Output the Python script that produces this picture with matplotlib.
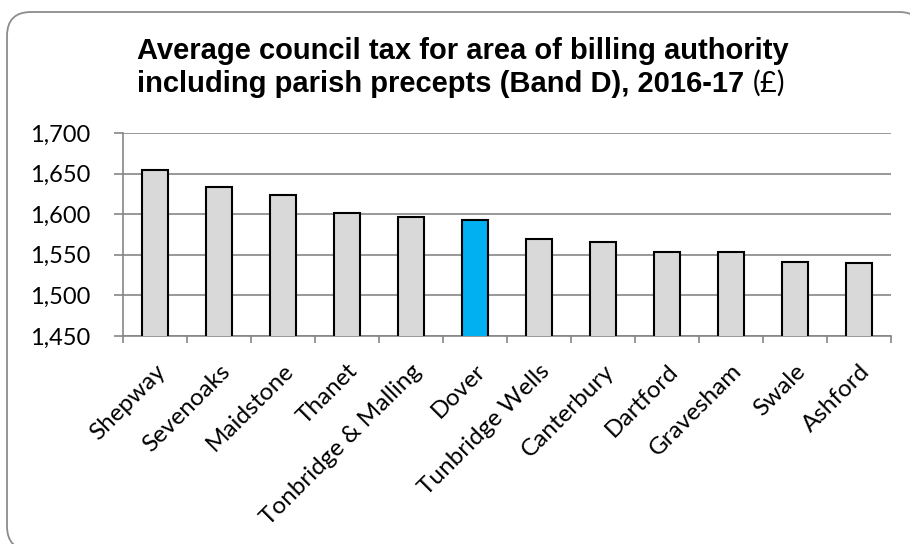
import matplotlib
matplotlib.use("Agg")
import matplotlib.pyplot as plt
from matplotlib.patches import FancyBboxPatch
from matplotlib.ticker import FuncFormatter, FixedLocator
from matplotlib.transforms import IdentityTransform

areas = ["Shepway", "Sevenoaks", "Maidstone", "Thanet", "Tonbridge & Malling",
         "Dover", "Tunbridge Wells", "Canterbury", "Dartford", "Gravesham",
         "Swale", "Ashford"]
tax = [1654, 1634, 1624, 1601, 1597, 1592.5, 1569, 1566, 1554, 1553, 1541, 1540]
highlight = "Dover"

plt.rcParams["font.family"] = ["Lato", "DejaVu Sans"]

W, H = 910, 544
fig = plt.figure(figsize=(W / 100, H / 100), dpi=100)

# rounded chart frame (pixel coords, runs off the right/bottom edge like the source)
frame = FancyBboxPatch((7, -6), 916, 538, transform=IdentityTransform(),
                       boxstyle="round,pad=0,rounding_size=24",
                       fc="white", ec="#8c8c8c", lw=1.3, zorder=-10)
fig.patches.append(frame)

ax = fig.add_axes([123 / W, 1 - 336 / H, 768 / W, 203 / H])
ax.set_facecolor("none")

colors = ["#00B0F0" if a == highlight else "#D9D9D9" for a in areas]
x = range(len(areas))
ax.bar(x, tax, width=0.4, color=colors, edgecolor="black", linewidth=1.5, zorder=3)

ax.set_ylim(1450, 1700)
ax.set_xlim(-0.5, len(areas) - 0.5)
ax.yaxis.set_major_locator(FixedLocator([1450, 1500, 1550, 1600, 1650, 1700]))
ax.yaxis.set_major_formatter(FuncFormatter(lambda v, p: f"{v:,.0f}"))
ax.grid(axis="y", color="#868686", lw=1.2, zorder=0)

for s in ["top", "right"]:
    ax.spines[s].set_visible(False)
for s in ["left", "bottom"]:
    ax.spines[s].set_color("#868686")
    ax.spines[s].set_linewidth(1.2)

ax.tick_params(axis="y", length=6.5, width=1.2, color="#868686", labelsize=17)
ax.tick_params(axis="y", pad=17)

# category boundary ticks, labels drawn separately so they can sit like Excel's
ax.set_xticks([i - 0.5 for i in range(len(areas) + 1)])
ax.set_xticklabels([])
ax.tick_params(axis="x", length=5, width=1.2, color="#868686")
for i, a in enumerate(areas):
    ax.annotate(a, (i, 1450), xytext=(0, -17.5), textcoords="offset points",
                rotation=45, ha="right", va="top", rotation_mode="anchor",
                fontsize=17.5, annotation_clip=False)

# title: line 2 ends with a non-bold "(£)"
t1 = fig.text(463 / W, 1 - 59 / H, "Average council tax for area of billing authority",
              ha="center", va="baseline", fontsize=21, fontweight="bold",
              fontfamily="Liberation Sans")
fig.canvas.draw()
bb = t1.get_window_extent()
t2 = fig.text(bb.x0 / W, 1 - 92 / H, "including parish precepts (Band D), 2016-17 ",
              ha="left", va="baseline", fontsize=21, fontweight="bold",
              fontfamily="Liberation Sans")
fig.canvas.draw()
bb2 = t2.get_window_extent()
fig.text(bb2.x1 / W, 1 - 92 / H, "(£)", ha="left", va="baseline", fontsize=21)

fig.savefig("out.png", dpi=100)
